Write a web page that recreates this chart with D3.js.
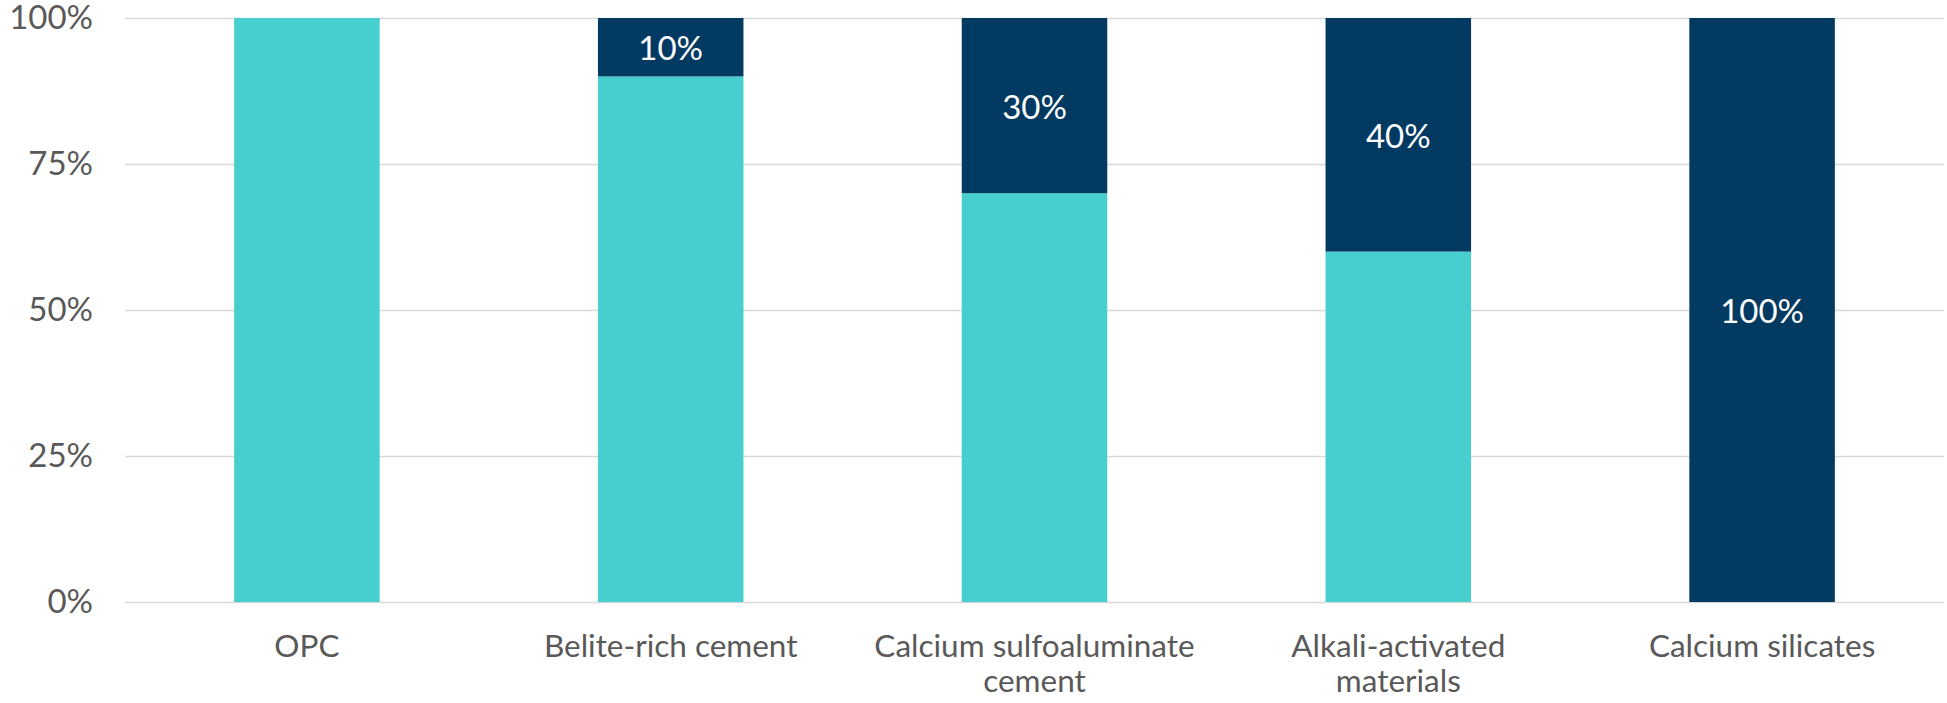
<!DOCTYPE html>
<html>
<head>
<meta charset="utf-8">
<script src="https://cdn.jsdelivr.net/npm/d3@7"></script>
<style>
  body { margin: 0; background: #fff; }
  svg { display: block; font-family: Lato, "Open Sans", sans-serif; }
</style>
</head>
<body>
<div id="chart"></div>
<script>
// categories (line breaks as in the original axis labels)
const categories = ['OPC', 'Belite-rich cement', 'Calcium sulfoaluminate\ncement', 'Alkali-activated\nmaterials', 'Calcium silicates'];
// share of each product, percent
const tealShare = [100, 90, 70, 60, 0];
const navyShare = [0, 10, 30, 40, 100];
const yTicks = [0, 25, 50, 75, 100];

const width = 1947;
const height = 703;
const margin = { top: 18, right: 3, bottom: 101, left: 125 };

const svg = d3.select('#chart')
  .append('svg')
  .attr('width', width)
  .attr('height', height);

const rows = categories.map((c, i) => ({ cat: c, teal: tealShare[i], navy: navyShare[i] }));
const series = d3.stack().keys(['teal', 'navy'])(rows);
const colors = { teal: '#46CFCE', navy: '#033A62' };

const xScale = d3.scaleBand()
  .domain(categories)
  .range([margin.left, width - margin.right])
  .paddingInner(0.6)
  .paddingOuter(0.3);

const yScale = d3.scaleLinear()
  .domain([0, 100])
  .range([height - margin.bottom, margin.top]);

// gridlines
const grid = svg.append('g')
  .attr('transform', `translate(${margin.left}, 0)`)
  .call(d3.axisLeft(yScale).tickValues(yTicks).tickFormat('').tickSize(-(width - margin.left - margin.right)));
grid.select('.domain').remove();
grid.selectAll('line').attr('stroke', '#D9D9D9').attr('stroke-width', 1.5);

// y tick labels
const yAxis = svg.append('g')
  .attr('transform', `translate(${margin.left}, 0)`)
  .call(d3.axisLeft(yScale).tickValues(yTicks).tickSize(0).tickPadding(32).tickFormat(d => d + '%'));
yAxis.select('.domain').remove();
yAxis.selectAll('text')
  .attr('fill', '#595959')
  .style('font-size', '33px')
  .style('font-family', 'Lato, sans-serif');

// bars
const layers = svg.append('g')
  .selectAll('g')
  .data(series)
  .join('g')
  .attr('fill', d => colors[d.key]);

layers.selectAll('rect')
  .data(d => d)
  .join('rect')
  .attr('x', d => xScale(d.data.cat))
  .attr('width', xScale.bandwidth())
  .attr('y', d => yScale(d[1]))
  .attr('height', d => yScale(d[0]) - yScale(d[1]));

// data labels on the navy segment
const navy = series.find(s => s.key === 'navy');
svg.append('g')
  .selectAll('text')
  .data(navy.filter(d => d.data.navy > 0))
  .join('text')
  .attr('x', d => xScale(d.data.cat) + xScale.bandwidth() / 2)
  .attr('y', d => (yScale(d[0]) + yScale(d[1])) / 2)
  .attr('text-anchor', 'middle')
  .attr('dominant-baseline', 'central')
  .attr('fill', '#fff')
  .style('font-size', '33px')
  .text(d => d.data.navy + '%');

// x axis labels
const xAxis = svg.append('g')
  .attr('transform', `translate(0, ${height - margin.bottom})`)
  .call(d3.axisBottom(xScale).tickSize(0).tickFormat(''));
xAxis.select('.domain').remove();

xAxis.selectAll('.tick')
  .append('text')
  .attr('fill', '#595959')
  .attr('text-anchor', 'middle')
  .style('font-size', '31.5px')
  .style('font-family', 'Lato, sans-serif')
  .selectAll('tspan')
  .data(d => d.split('\n'))
  .join('tspan')
  .attr('x', 0)
  .attr('y', (d, i) => 55 + i * 35)
  .text(d => d);
</script>
</body>
</html>
